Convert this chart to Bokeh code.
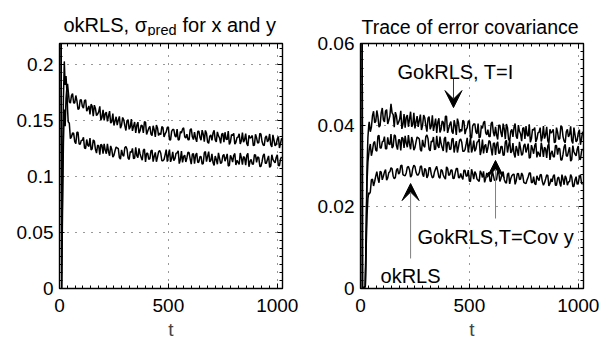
from bokeh.plotting import figure
from bokeh.layouts import row, column
from bokeh.models import FixedTicker, LinearAxis, Label, Arrow, VeeHead, Range1d
from bokeh.embed import file_html
from bokeh.resources import INLINE

FONT = "Liberation Sans"

# ---------------- data ----------------
t_a = list(range(40, 1030, 10))      # 40, 50, ..., 1020
t_b = list(range(45, 1020, 10))      # 45, 55, ..., 1015
left_t_early = [1, 10, 14, 18, 22, 26, 30, 34, 37]
right_t_early = [1, 9, 22, 26, 30, 34, 38]

# left panel: sigma_pred (units of 1e-4)
left_upper_early_e4 = [8000, 0, 1000, 1700, 2030, 1820, 1900, 1760, 1830]
left_upper_a_e4 = [
    1766, 1658, 1742, 1659, 1678, 1607, 1687, 1612, 1687, 1606,
    1556, 1630, 1639, 1546, 1579, 1504, 1597, 1563, 1493, 1585,
    1491, 1457, 1535, 1505, 1433, 1529, 1457, 1500, 1423, 1514,
    1449, 1390, 1487, 1410, 1453, 1490, 1377, 1433, 1381, 1455,
    1355, 1435, 1390, 1447, 1354, 1399, 1444, 1328, 1422, 1366,
    1424, 1332, 1390, 1436, 1344, 1330, 1418, 1356, 1397, 1311,
    1406, 1326, 1379, 1413, 1310, 1362, 1325, 1414, 1311, 1364,
    1297, 1386, 1397, 1330, 1287, 1376, 1387, 1307, 1354, 1292,
    1393, 1331, 1294, 1370, 1351, 1277, 1378, 1299, 1387, 1314,
    1277, 1365, 1328, 1285, 1374, 1276, 1335, 1256, 1345]
left_upper_b_e4 = [
    1667, 1724, 1658, 1725, 1600, 1686, 1628, 1679, 1586, 1632,
    1647, 1541, 1610, 1559, 1628, 1529, 1502, 1576, 1542, 1478,
    1564, 1496, 1460, 1538, 1460, 1508, 1412, 1509, 1444, 1409,
    1488, 1459, 1388, 1461, 1390, 1487, 1405, 1449, 1367, 1417,
    1461, 1367, 1376, 1439, 1382, 1439, 1329, 1405, 1421, 1353,
    1327, 1403, 1425, 1357, 1379, 1329, 1429, 1331, 1342, 1406,
    1351, 1415, 1312, 1388, 1297, 1373, 1390, 1329, 1400, 1345,
    1380, 1307, 1336, 1407, 1310, 1369, 1290, 1348, 1383, 1321,
    1308, 1384, 1275, 1345, 1368, 1282, 1347, 1304, 1380, 1283,
    1348, 1310, 1381, 1266, 1325, 1287, 1358, 1297]
left_lower_early_e4 = [8000, 0, 700, 1300, 1600, 1450, 1700, 1800, 1600]
left_lower_a_e4 = [
    1490, 1340, 1390, 1313, 1396, 1294, 1324, 1351, 1252, 1280,
    1345, 1248, 1319, 1211, 1277, 1289, 1205, 1237, 1293, 1187,
    1243, 1191, 1265, 1250, 1157, 1196, 1259, 1245, 1153, 1217,
    1161, 1261, 1169, 1203, 1147, 1247, 1209, 1154, 1231, 1134,
    1217, 1174, 1233, 1142, 1153, 1242, 1193, 1132, 1221, 1160,
    1213, 1116, 1229, 1180, 1131, 1220, 1159, 1200, 1115, 1210,
    1131, 1178, 1117, 1224, 1181, 1132, 1203, 1100, 1153, 1212,
    1116, 1187, 1138, 1203, 1101, 1166, 1189, 1104, 1128, 1211,
    1108, 1168, 1191, 1088, 1154, 1111, 1194, 1176, 1091, 1133,
    1204, 1119, 1185, 1094, 1154, 1123, 1195, 1098, 1176]
left_lower_b_e4 = [
    1478, 1356, 1387, 1294, 1396, 1288, 1325, 1256, 1332, 1270,
    1239, 1328, 1244, 1280, 1196, 1280, 1293, 1205, 1225, 1275,
    1175, 1231, 1257, 1170, 1239, 1182, 1270, 1166, 1224, 1252,
    1166, 1188, 1252, 1172, 1236, 1132, 1208, 1160, 1237, 1182,
    1133, 1222, 1209, 1142, 1195, 1134, 1241, 1162, 1143, 1208,
    1231, 1152, 1127, 1192, 1167, 1214, 1111, 1206, 1193, 1126,
    1179, 1112, 1213, 1134, 1223, 1144, 1125, 1184, 1111, 1164,
    1128, 1199, 1168, 1095, 1191, 1130, 1207, 1146, 1110, 1169,
    1180, 1102, 1209, 1136, 1112, 1195, 1128, 1170, 1091, 1187,
    1120, 1155, 1083, 1196, 1136, 1171, 1099, 1158]

# right panel: trace of error covariance (units of 1e-4)
gok_I_early_e4 = [5000, 0, 5, 150, 300, 370, 400]
gok_I_a_e4 = [
    408, 395, 434, 409, 421, 399, 442, 408, 438, 412,
    452, 426, 432, 401, 415, 391, 427, 419, 396, 433,
    401, 392, 422, 412, 388, 425, 399, 417, 390, 424,
    401, 381, 417, 390, 407, 422, 381, 402, 384, 412,
    376, 406, 390, 412, 378, 394, 411, 369, 403, 383,
    404, 371, 392, 410, 376, 372, 404, 382, 396, 365,
    400, 371, 391, 403, 365, 385, 371, 404, 367, 385,
    361, 394, 398, 373, 358, 390, 394, 366, 383, 360,
    398, 376, 362, 390, 384, 357, 394, 365, 398, 372,
    357, 390, 377, 362, 394, 359, 381, 352, 384]
gok_I_b_e4 = [
    384, 423, 406, 436, 395, 430, 413, 435, 403, 423,
    430, 395, 423, 407, 435, 402, 394, 425, 415, 396,
    430, 408, 396, 426, 399, 418, 384, 421, 398, 386,
    416, 407, 382, 410, 385, 422, 392, 409, 379, 399,
    416, 382, 385, 409, 389, 410, 369, 398, 403, 379,
    369, 398, 406, 381, 389, 372, 408, 373, 376, 400,
    381, 404, 366, 394, 361, 390, 395, 373, 400, 379,
    392, 366, 376, 402, 367, 388, 359, 381, 394, 371,
    367, 396, 355, 381, 390, 359, 383, 367, 396, 361,
    384, 371, 397, 355, 376, 363, 389, 367]
gok_cov_early_e4 = [5000, 0, 5, 130, 260, 310, 330]
gok_cov_a_e4 = [
    340, 325, 356, 339, 373, 344, 359, 372, 342, 354,
    378, 348, 374, 340, 364, 370, 344, 356, 376, 341,
    361, 345, 371, 366, 336, 350, 372, 367, 337, 359,
    340, 374, 344, 355, 337, 371, 358, 340, 366, 333,
    361, 347, 366, 336, 340, 369, 353, 333, 362, 342,
    360, 327, 365, 349, 332, 362, 342, 355, 327, 359,
    332, 348, 327, 363, 349, 332, 356, 321, 339, 359,
    326, 350, 333, 355, 321, 342, 350, 321, 329, 357,
    322, 342, 349, 315, 337, 322, 350, 344, 315, 329,
    353, 324, 346, 316, 335, 325, 349, 316, 342]
gok_cov_b_e4 = [
    354, 338, 360, 336, 375, 344, 361, 342, 370, 352,
    344, 376, 350, 364, 338, 368, 374, 346, 354, 371,
    339, 359, 369, 340, 364, 346, 376, 341, 361, 371,
    342, 350, 372, 345, 367, 333, 358, 342, 368, 349,
    333, 363, 358, 336, 354, 333, 369, 343, 336, 358,
    366, 339, 331, 353, 344, 360, 326, 357, 353, 331,
    348, 326, 359, 333, 363, 336, 330, 349, 325, 343,
    330, 354, 343, 319, 351, 330, 356, 335, 323, 343,
    346, 320, 355, 331, 323, 350, 328, 342, 315, 347,
    325, 336, 312, 350, 329, 341, 317, 336]
ok_early_e4 = [5000, 0, 4, 100, 180, 220, 235]
ok_a_e4 = [
    231, 266, 251, 275, 270, 287, 266, 285, 265, 284,
    296, 275, 272, 294, 284, 302, 277, 283, 299, 273,
    294, 299, 278, 284, 300, 274, 291, 277, 296, 271,
    286, 299, 273, 291, 278, 268, 294, 279, 290, 270,
    294, 272, 282, 267, 289, 276, 263, 292, 268, 281,
    265, 288, 272, 260, 283, 285, 262, 277, 265, 287,
    262, 281, 267, 258, 283, 269, 279, 255, 281, 267,
    283, 260, 257, 273, 283, 260, 257, 276, 264, 279,
    253, 268, 277, 257, 261, 279, 253, 273, 250, 268,
    276, 253, 262, 273, 250, 274, 258, 278, 255]
ok_b_e4 = [
    236, 268, 262, 286, 259, 285, 275, 291, 271, 286,
    293, 269, 290, 280, 301, 279, 276, 297, 291, 277,
    302, 285, 278, 299, 280, 294, 271, 296, 280, 273,
    293, 287, 270, 289, 272, 298, 277, 290, 269, 283,
    294, 271, 273, 290, 275, 290, 262, 282, 286, 268,
    262, 282, 287, 270, 277, 263, 289, 265, 267, 284,
    270, 286, 260, 280, 256, 276, 280, 264, 282, 268,
    277, 258, 266, 283, 259, 274, 254, 269, 278, 262,
    259, 278, 251, 269, 275, 253, 270, 259, 279, 254,
    270, 261, 279, 250, 266, 255, 274, 258]

x_ticks = [0, 500, 1000]
x_tick_labels = ["0", "500", "1000"]
left_y_ticks = [0, 0.05, 0.1, 0.15, 0.2]
left_y_tick_labels = ["0", "0.05", "0.1", "0.15", "0.2"]
right_y_ticks = [0, 0.02, 0.04, 0.06]
right_y_tick_labels = ["0", "0.02", "0.04", "0.06"]

left_title_main = "okRLS, σ"
left_title_sub = "pred"
left_title_tail = "for x and y"
right_title = "Trace of error covariance"

LW = 1.5
FRAME_W = 223
STRIP_H = 36
L_MBL, L_MBR = 59, 18
R_MBL, R_MBR = 60, 33


def series(t_early, v_early, va, vb):
    pts = list(zip(t_a, va)) + list(zip(t_b, vb))
    pts.sort()
    ts = t_early + [t for t, _ in pts]
    vs = [v / 1e4 for v in v_early] + [v / 1e4 for _, v in pts]
    return ts, vs


def style_axis(ax, ticker, ticks, labels, show):
    ax.ticker = ticker
    ax.axis_line_color = None
    ax.major_tick_in = 5
    ax.major_tick_out = 0
    ax.minor_tick_in = 3
    ax.minor_tick_out = 0
    ax.major_tick_line_color = "black"
    ax.minor_tick_line_color = "black"
    ax.major_label_text_font = FONT
    ax.major_label_text_color = "black"
    if show:
        ax.major_label_text_font_size = "19px"
        ax.major_label_overrides = dict(zip(ticks, labels))
    else:
        ax.major_label_text_font_size = "0px"
        ax.major_label_standoff = 0
        ax.major_label_overrides = {t: "" for t in ticks}


def make_fig(y_end, yticks, ylabels, yminor, mbl, mbr):
    p = figure(frame_width=FRAME_W, frame_height=245,
               x_range=Range1d(0, 1024), y_range=Range1d(0, y_end),
               output_backend="svg", toolbar_location=None,
               min_border_left=mbl, min_border_right=mbr,
               min_border_top=43 - STRIP_H, min_border_bottom=50)
    p.background_fill_color = "white"
    p.border_fill_color = "white"
    p.outline_line_color = "black"
    p.outline_line_width = 1.4
    xt = FixedTicker(ticks=x_ticks, minor_ticks=[k * 500 / 14 for k in range(29)])
    yt = FixedTicker(ticks=yticks, minor_ticks=yminor)
    top = LinearAxis()
    right = LinearAxis()
    p.add_layout(top, "above")
    p.add_layout(right, "right")
    style_axis(p.below[0], xt, x_ticks, x_tick_labels, True)
    style_axis(top, xt, x_ticks, x_tick_labels, False)
    style_axis(p.left[0], yt, yticks, ylabels, True)
    style_axis(right, yt, yticks, ylabels, False)
    p.below[0].major_label_standoff = 10
    p.left[0].major_label_standoff = 6
    p.below[0].axis_label = "t"
    p.below[0].axis_label_text_font = FONT
    p.below[0].axis_label_text_font_size = "19px"
    p.below[0].axis_label_text_font_style = "normal"
    p.below[0].axis_label_standoff = 4
    p.xgrid.ticker = xt
    p.ygrid.ticker = yt
    for g in (p.xgrid, p.ygrid):
        g.grid_line_color = "black"
        g.grid_line_dash = "1 7"
        g.grid_line_width = 1
        g.grid_line_alpha = 0.8
    return p


def title_fig(frame_left_px, mbl, mbr):
    # bare strip above a panel; its frame lines up with the panel's frame,
    # x given in page pixels, y in pixels from the strip's top
    t = figure(frame_width=FRAME_W, frame_height=STRIP_H,
               x_range=Range1d(frame_left_px, frame_left_px + FRAME_W),
               y_range=Range1d(STRIP_H, 0),
               output_backend="svg", toolbar_location=None,
               x_axis_location=None, y_axis_location=None,
               min_border_left=mbl, min_border_right=mbr, min_border_top=0, min_border_bottom=0)
    t.grid.visible = False
    t.outline_line_color = None
    t.background_fill_color = "white"
    t.border_fill_color = "white"
    return t


def lbl(p, x, y, text, size="20px", align="left"):
    p.add_layout(Label(x=x, y=y, text=text, text_font=FONT, text_font_size=size,
                       text_align=align, text_baseline="alphabetic", text_color="black"))


# ---------------- titles ----------------
t1 = title_fig(L_MBL, L_MBL, L_MBR)
lbl(t1, 63, 24, left_title_main)
lbl(t1, 147, 29, left_title_sub, size="14.5px")
lbl(t1, 182, 24, left_title_tail)

t2 = title_fig(300 + R_MBL, R_MBL, R_MBR)
lbl(t2, 361, 26, right_title, size="19.5px")

# ---------------- left panel ----------------
p1 = make_fig(0.219, left_y_ticks, left_y_tick_labels,
              [k * 0.05 / 7 for k in range(31)], L_MBL, L_MBR)
for early, va, vb in ((left_upper_early_e4, left_upper_a_e4, left_upper_b_e4),
                      (left_lower_early_e4, left_lower_a_e4, left_lower_b_e4)):
    xs, ys = series(left_t_early, early, va, vb)
    p1.line(xs, ys, line_color="black", line_width=LW)

# ---------------- right panel ----------------
p2 = make_fig(0.06, right_y_ticks, right_y_tick_labels,
              [k * 0.002 for k in range(31)], R_MBL, R_MBR)
for early, va, vb in ((gok_I_early_e4, gok_I_a_e4, gok_I_b_e4),
                      (gok_cov_early_e4, gok_cov_a_e4, gok_cov_b_e4),
                      (ok_early_e4, ok_a_e4, ok_b_e4)):
    xs, ys = series(right_t_early, early, va, vb)
    p2.line(xs, ys, line_color="black", line_width=LW)

lbl(p2, 170, 0.0530, "GokRLS, T=I")
lbl(p2, 262, 0.0125, "GokRLS,T=Cov y")
lbl(p2, 92, 0.00306, "okRLS")

p2.add_layout(Arrow(end=VeeHead(size=17, fill_color="black", line_color="black"),
                    x_start=427, y_start=0.0514, x_end=427, y_end=0.0443,
                    line_color="#333333", line_width=1))
p2.add_layout(Arrow(end=VeeHead(size=17, fill_color="black", line_color="black"),
                    x_start=620, y_start=0.01714, x_end=620, y_end=0.03135,
                    line_color="#808080", line_width=1))
p2.add_layout(Arrow(end=VeeHead(size=17, fill_color="black", line_color="black"),
                    x_start=230, y_start=0.00735, x_end=230, y_end=0.0257,
                    line_color="#808080", line_width=1))

layout = column(row(t1, t2), row(p1, p2))
open("out.html", "w").write(file_html(layout, INLINE))
